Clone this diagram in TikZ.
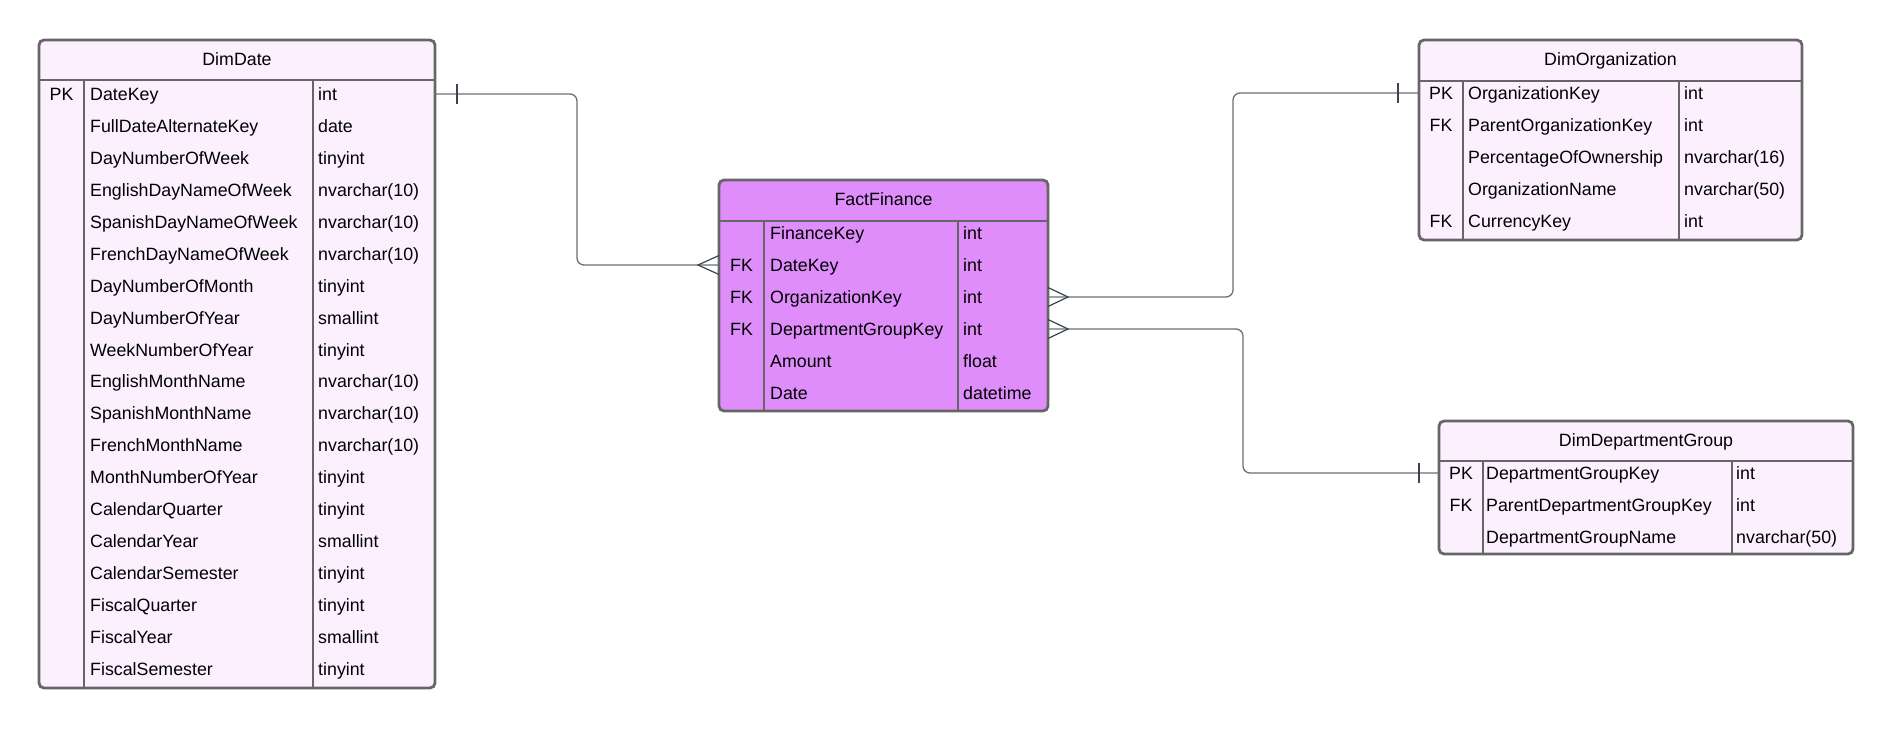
\documentclass[tikz,border=0pt]{standalone}
\usepackage{fontspec}
\setmainfont{Liberation Sans}
\definecolor{dimfill}{HTML}{FCF0FF}
\definecolor{factfill}{HTML}{E08DFC}
\definecolor{bordergray}{HTML}{666666}
\definecolor{linegray}{HTML}{6B6F75}
\definecolor{footgray}{HTML}{3A4350}
\newcommand\rowfont{\fontsize{17.8}{20}\selectfont}
\begin{document}
\begin{tikzpicture}[x=1pt,y=-1pt,
  tbl/.style={draw=bordergray, line width=2.8pt, rounded corners=5pt, inner sep=0pt, outer sep=0pt, anchor=north west},
  dimtbl/.style={tbl, fill=dimfill},
  facttbl/.style={tbl, fill=factfill},
  divider/.style={draw=bordergray, line width=2.6pt},
  celltxt/.style={font=\rowfont, inner sep=0pt, text height=12.8pt, text depth=0pt, yshift=1pt},
  keytxt/.style={celltxt, anchor=center},
  nametxt/.style={celltxt, anchor=west},
  hdr/.style={celltxt, anchor=center},
  rel/.style={draw=linegray, line width=1.3pt, rounded corners=7pt},
  footline/.style={draw=footgray, line width=1.2pt}
]
\useasboundingbox (0,0) rectangle (1894,728);

% ---------------- DimDate ----------------
\node[dimtbl, minimum width=396pt, minimum height=648pt] (dimdate) at (39,40) {};
\draw[divider] (39,80) -- (435,80);
\draw[divider] (84,80) -- (84,688);
\draw[divider] (313,80) -- (313,688);
\node[hdr] (dimdate-h) at (237,60) {DimDate};
\foreach \k/\n/\t [count=\i from 0] in {
  PK/DateKey/int,
  /FullDateAlternateKey/date,
  /DayNumberOfWeek/tinyint,
  /EnglishDayNameOfWeek/nvarchar(10),
  /SpanishDayNameOfWeek/nvarchar(10),
  /FrenchDayNameOfWeek/nvarchar(10),
  /DayNumberOfMonth/tinyint,
  /DayNumberOfYear/smallint,
  /WeekNumberOfYear/tinyint,
  /EnglishMonthName/nvarchar(10),
  /SpanishMonthName/nvarchar(10),
  /FrenchMonthName/nvarchar(10),
  /MonthNumberOfYear/tinyint,
  /CalendarQuarter/tinyint,
  /CalendarYear/smallint,
  /CalendarSemester/tinyint,
  /FiscalQuarter/tinyint,
  /FiscalYear/smallint,
  /FiscalSemester/tinyint}{
  \node[keytxt] (dd-k\i) at (61.5,{95+31.95*\i}) {\k};
  \node[nametxt] (dd-n\i) at (90,{95+31.95*\i}) {\n};
  \node[nametxt] (dd-t\i) at (318,{95+31.95*\i}) {\t};
}

% ---------------- FactFinance ----------------
\node[facttbl, minimum width=329pt, minimum height=231pt] (ff) at (719,180) {};
\draw[divider] (719,221) -- (1048,221);
\draw[divider] (764,221) -- (764,411);
\draw[divider] (958,221) -- (958,411);
\node[hdr] (ff-h) at (883.5,200) {FactFinance};
\foreach \k/\n/\t [count=\i from 0] in {
  /FinanceKey/int,
  FK/DateKey/int,
  FK/OrganizationKey/int,
  FK/DepartmentGroupKey/int,
  /Amount/float,
  /Date/datetime}{
  \node[keytxt] (ff-k\i) at (741.5,{234+32*\i}) {\k};
  \node[nametxt] (ff-n\i) at (770,{234+32*\i}) {\n};
  \node[nametxt] (ff-t\i) at (963,{234+32*\i}) {\t};
}

% ---------------- DimOrganization ----------------
\node[dimtbl, minimum width=383pt, minimum height=200pt] (dorg) at (1419,40) {};
\draw[divider] (1419,81) -- (1802,81);
\draw[divider] (1463,81) -- (1463,240);
\draw[divider] (1679,81) -- (1679,240);
\node[hdr] (dorg-h) at (1610.5,60.5) {DimOrganization};
\foreach \k/\n/\t [count=\i from 0] in {
  PK/OrganizationKey/int,
  FK/ParentOrganizationKey/int,
  /PercentageOfOwnership/nvarchar(16),
  /OrganizationName/nvarchar(50),
  FK/CurrencyKey/int}{
  \node[keytxt] (do-k\i) at (1441,{94+32*\i}) {\k};
  \node[nametxt] (do-n\i) at (1468,{94+32*\i}) {\n};
  \node[nametxt] (do-t\i) at (1684,{94+32*\i}) {\t};
}

% ---------------- DimDepartmentGroup ----------------
\node[dimtbl, minimum width=414pt, minimum height=133pt] (ddg) at (1439,421) {};
\draw[divider] (1439,461) -- (1853,461);
\draw[divider] (1483,461) -- (1483,554);
\draw[divider] (1732,461) -- (1732,554);
\node[hdr] (ddg-h) at (1646,441) {DimDepartmentGroup};
\foreach \k/\n/\t [count=\i from 0] in {
  PK/DepartmentGroupKey/int,
  FK/ParentDepartmentGroupKey/int,
  /DepartmentGroupName/nvarchar(50)}{
  \node[keytxt] (dg-k\i) at (1461,{474+32*\i}) {\k};
  \node[nametxt] (dg-n\i) at (1486,{474+32*\i}) {\n};
  \node[nametxt] (dg-t\i) at (1736,{474+32*\i}) {\t};
}

% ---------------- Relationships ----------------
\coordinate (r1a) at (dimdate.east |- dd-n0);
\coordinate (r1b) at (ff.west |- ff-n1);
\draw[rel] (r1a) -- ++(142,0) |- (r1b);
\draw[footline] ([xshift=22pt,yshift=10pt]r1a) -- ([xshift=22pt,yshift=-10pt]r1a);
\draw[footline] ([yshift=9.5pt]r1b) -- ([xshift=-21pt]r1b) -- ([yshift=-9.5pt]r1b);

\coordinate (r2a) at (ff.east |- ff-n2);
\coordinate (r2b) at (dorg.west |- do-n0);
\draw[rel] (r2a) -- ++(185,0) |- (r2b);
\draw[footline] ([yshift=9.5pt]r2a) -- ([xshift=20pt]r2a) -- ([yshift=-9.5pt]r2a);
\draw[footline] ([xshift=-21pt,yshift=10pt]r2b) -- ([xshift=-21pt,yshift=-10pt]r2b);

\coordinate (r3a) at (ff.east |- ff-n3);
\coordinate (r3b) at (ddg.west |- dg-n0);
\draw[rel] (r3a) -- ++(195,0) |- (r3b);
\draw[footline] ([yshift=9.5pt]r3a) -- ([xshift=20pt]r3a) -- ([yshift=-9.5pt]r3a);
\draw[footline] ([xshift=-20pt,yshift=10pt]r3b) -- ([xshift=-20pt,yshift=-10pt]r3b);
\end{tikzpicture}
\end{document}
